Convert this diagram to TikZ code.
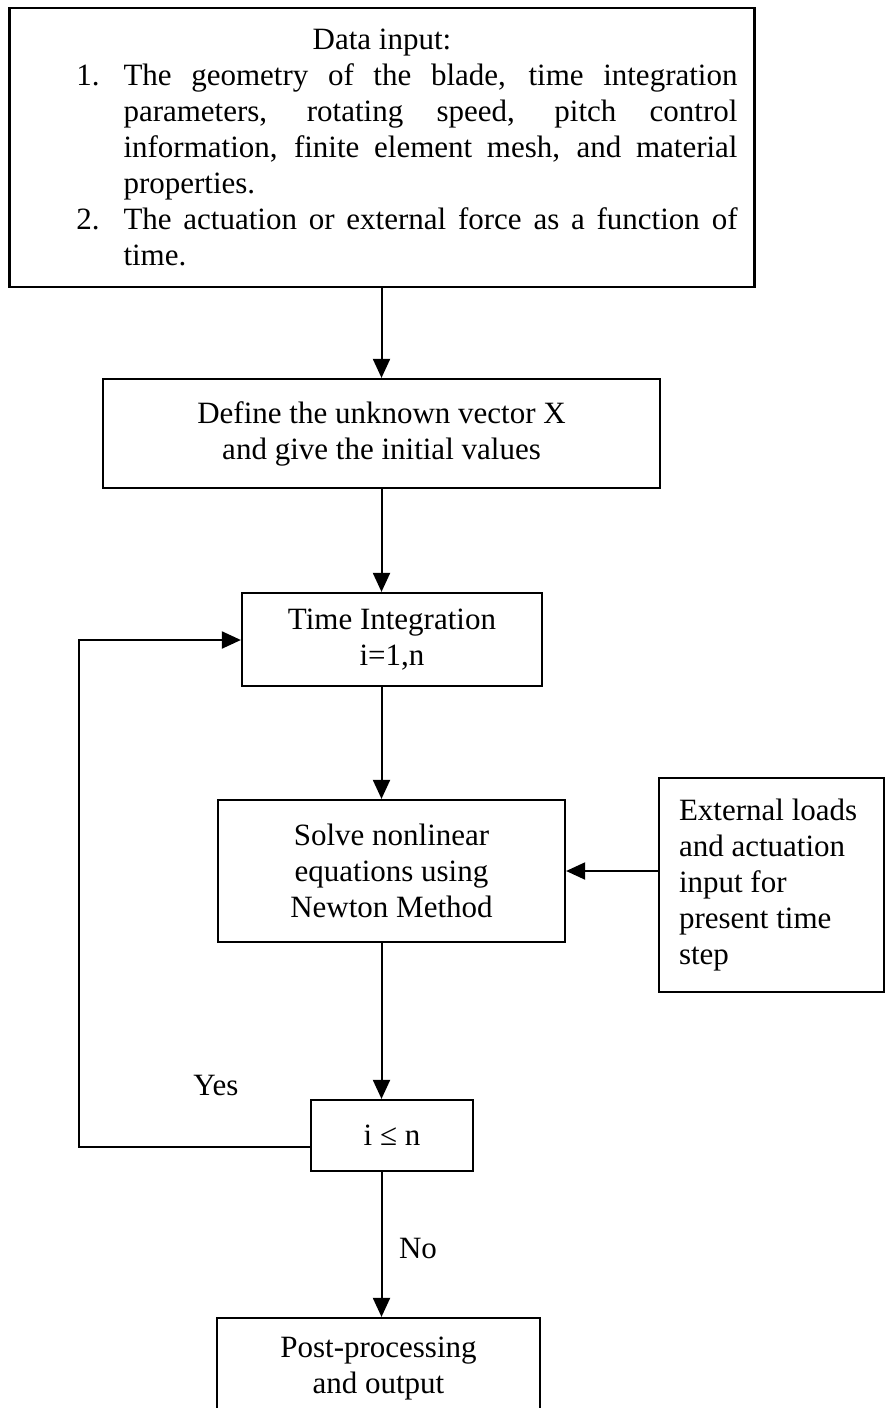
\documentclass[tikz,border=0pt]{standalone}
\usepackage{fontspec}
\setmainfont{Liberation Serif}
\usepackage{enumitem}
\usetikzlibrary{arrows.meta,positioning}
\hbadness=10000

\begin{document}
\begin{tikzpicture}[x=1pt,y=-1pt,font=\fontsize{31}{36}\selectfont,
    box/.style={draw, line width=2.2pt, inner sep=0pt},
    flow/.style={line width=2pt, -{Triangle[length=19pt,width=17pt]}}]
  \useasboundingbox (0,0) rectangle (886,1408);

  % Data input
  \node[box, text width=745pt, minimum height=279pt, align=justify] (datain) at (382,147.5) {%
    \setlength{\parindent}{0pt}%
    {\centering Data input:\par}
    \begin{enumerate}[leftmargin=114pt, rightmargin=17pt, labelsep=24pt,
        itemsep=0pt, topsep=0pt, parsep=0pt, partopsep=0pt]
      \item The geometry of the blade, time integration\linebreak
        parameters, rotating speed, pitch control\linebreak
        information, finite element mesh, and material\linebreak
        properties.
      \item The actuation or external force as a function of\linebreak
        time.
    \end{enumerate}};

  % Main steps
  \node[box, minimum width=557pt, minimum height=109pt, align=center] (define) at (381.5,433.5)
    {Define the unknown vector X\\and give the initial values};
  \node[box, minimum width=300pt, minimum height=93pt, align=center] (integ) at (392,639.5)
    {Time Integration\\i=1,n};
  \node[box, minimum width=347pt, minimum height=142pt, align=center] (solve) at (391.5,871)
    {Solve nonlinear\\equations using\\Newton Method};
  \node[box, text width=185pt, inner xsep=20pt, minimum height=214pt, align=flush left] (loads) at (771.5,885)
    {External loads\\and actuation\\input for\\present time\\step};
  \node[box, minimum width=162pt, minimum height=71pt] (cond) at (392,1135.5) {i ≤ n};
  \node[box, minimum width=323pt, minimum height=102pt, align=center] (post) at (378.5,1369)
    {Post-processing\\and output};

  % Branch labels
  \node (yes) at (216,1085) {Yes};
  \node (no) at (418,1248) {No};

  % Connectors
  \draw[flow] (define.north |- datain.south) -- (define.north);
  \draw[flow] (define.south) -- (define.south |- integ.north);
  \draw[flow] (define.south |- integ.south) -- (define.south |- solve.north);
  \draw[flow] (loads.west |- solve.east) -- (solve.east);
  \draw[flow] (define.south |- solve.south) -- (define.south |- cond.north);
  \draw[flow] (define.south |- cond.south) -- (define.south |- post.north);

  % Loop back
  \coordinate (loopdown) at (79,1147);
  \coordinate (loopup) at (79,640);
  \draw[flow] (cond.west |- loopdown) -- (loopdown) -- (loopup) -- (integ.west |- loopup);
\end{tikzpicture}
\end{document}
